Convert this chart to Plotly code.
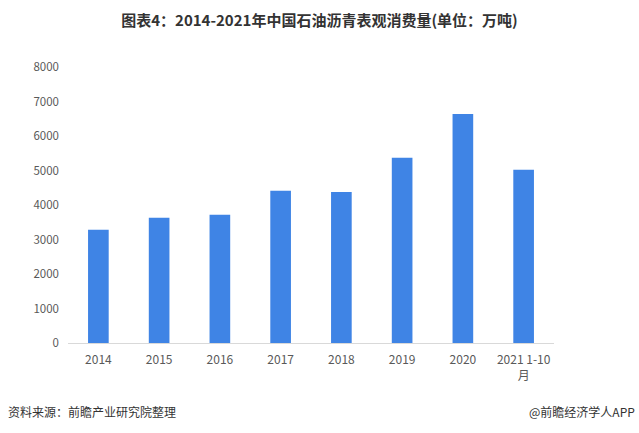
import plotly.graph_objects as go

categories = ["2014", "2015", "2016", "2017", "2018", "2019", "2020", "2021 1-10<br>月"]
values = [3280, 3630, 3720, 4410, 4380, 5370, 6640, 5020]
y_ticks = [0, 1000, 2000, 3000, 4000, 5000, 6000, 7000, 8000]

font = "Noto Sans CJK SC, Noto Sans, sans-serif"

fig = go.Figure(go.Bar(
    x=categories, y=values,
    marker=dict(color="#3F84E5", line=dict(width=0)),
    width=0.34,
))

fig.update_layout(
    width=639, height=433,
    margin=dict(l=68, r=85, t=67, b=90),
    paper_bgcolor="white", plot_bgcolor="white",
    showlegend=False,
    font=dict(family=font, size=11, color="#595959"),
    title=dict(text="<b>图表4：2014-2021年中国石油沥青表观消费量(单位：万吨)</b>",
               x=0.5, xanchor="center", y=0.952, yanchor="middle",
               font=dict(family=font, size=15, color="#333333")),
    xaxis=dict(type="category", showgrid=False, showline=True, linecolor="#D9D9D9",
               linewidth=1, ticks="", automargin=False, ticklabelstandoff=6,
               tickfont=dict(size=12, color="#595959")),
    yaxis=dict(range=[0, 8000], tickvals=y_ticks, showgrid=False, zeroline=False,
               showline=False, ticks="", ticklabelstandoff=8, automargin=False,
               tickfont=dict(size=11.5, color="#595959")),
    annotations=[
        dict(text="资料来源：前瞻产业研究院整理", xref="paper", yref="paper",
             x=-62/486, y=-68/276, xanchor="left", yanchor="middle", showarrow=False,
             font=dict(family=font, size=12, color="#333333")),
        dict(text="@前瞻经济学人APP", xref="paper", yref="paper",
             x=(637-68)/486, y=-68/276, xanchor="right", yanchor="middle", showarrow=False,
             font=dict(family=font, size=12, color="#333333")),
    ],
)

fig.write_html("out.html", config={"displayModeBar": False},
               post_script="document.body.style.margin='0';")
